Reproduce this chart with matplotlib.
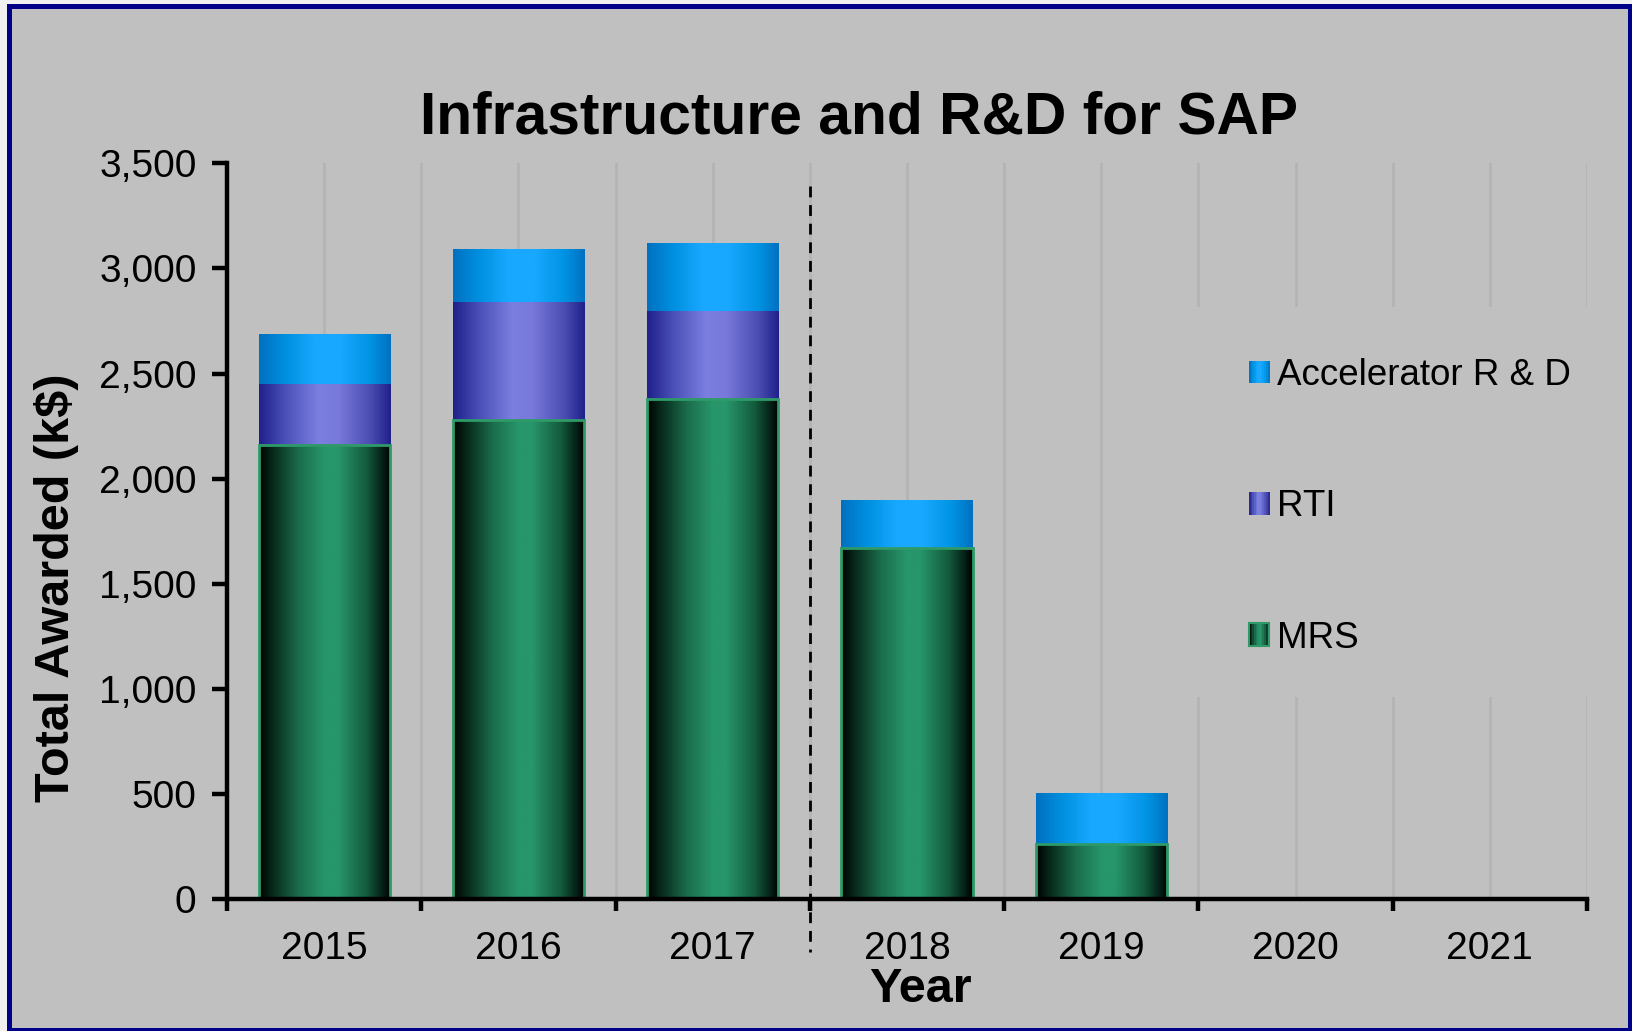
import numpy as np
import matplotlib
matplotlib.use("Agg")
import matplotlib.pyplot as plt
from matplotlib.colors import LinearSegmentedColormap
from matplotlib.patches import Rectangle
from matplotlib.legend_handler import HandlerBase
from matplotlib.lines import Line2D
from matplotlib.ticker import StrMethodFormatter, FixedLocator

plt.rcParams['font.family'] = ['Liberation Sans', 'DejaVu Sans']

# ---- data ----
years = ["2015", "2016", "2017", "2018", "2019", "2020", "2021"]
mrs = [2160, 2280, 2380, 1670, 260, 0, 0]
rti = [290, 560, 420, 0, 0, 0, 0]
accel = [240, 255, 320, 230, 245, 0, 0]
series_labels = ["MRS", "RTI", "Accelerator R & D"]
title = "Infrastructure and R&D for SAP"
ylabel = "Total Awarded (k$)"
xlabel = "Year"

BG = "#c0c0c0"
W, H = 1632, 1031
fig = plt.figure(figsize=(W / 100, H / 100), dpi=100, facecolor="#f0f0f0")

# outer frame
fig.patches.append(Rectangle((8.5, 1.5), 1621, 1024, transform=None,
                             facecolor=BG, edgecolor="#000088", linewidth=3.6,
                             zorder=-10))

ax = fig.add_axes([227 / W, 1 - 899 / H, 1360 / W, (899 - 163.4) / H])
ax.set_facecolor(BG)
ax.set_xlim(-0.5, len(years) - 0.5)
ax.set_ylim(0, 3500)

cm_mrs = LinearSegmentedColormap.from_list("mrs", [
    (0.0, "#000000"), (0.1, "#06281a"), (0.3, "#1b6c4c"), (0.5, "#27966a"),
    (0.6, "#27966a"), (0.82, "#135a3c"), (0.93, "#05241a"), (1.0, "#000000")])
cm_rti = LinearSegmentedColormap.from_list("rti", [
    (0.0, "#20208a"), (0.2, "#4b50b8"), (0.45, "#7b7fe0"), (0.6, "#7879da"),
    (0.85, "#4a4cb0"), (1.0, "#20208a")])
cm_acc = LinearSegmentedColormap.from_list("acc", [
    (0.0, "#0070c0"), (0.2, "#0090e0"), (0.42, "#18a8ff"), (0.62, "#18a8ff"),
    (0.85, "#0092e2"), (1.0, "#0070c0")])

x = np.arange(len(years))
width = 0.675
grad = np.linspace(0, 1, 256).reshape(1, -1)


def gradient_fill(bars, cmap):
    for p in bars.patches:
        h = p.get_height()
        if h <= 0:
            continue
        x0, y0 = p.get_x(), p.get_y()
        im = ax.imshow(grad, cmap=cmap, aspect="auto", interpolation="bilinear",
                       extent=[x0, x0 + p.get_width(), y0, y0 + h], zorder=2.2)
        im.set_clip_path(p)


b_mrs = ax.bar(x, mrs, width, color="#27966a", zorder=2, linewidth=0)
gradient_fill(b_mrs, cm_mrs)
ax.bar(x, mrs, width, fill=False, edgecolor="#2e9a68", linewidth=2.0, zorder=3)
bottom2 = np.array(mrs)
b_rti = ax.bar(x, rti, width, bottom=bottom2, color="#7b7fe0", zorder=2, linewidth=0)
gradient_fill(b_rti, cm_rti)
bottom3 = bottom2 + np.array(rti)
b_acc = ax.bar(x, accel, width, bottom=bottom3, color="#18a8ff", zorder=2, linewidth=0)
gradient_fill(b_acc, cm_acc)

ax.set_xlim(-0.5, len(years) - 0.5)
ax.set_ylim(0, 3500)

# gridlines every half category
for gx in np.arange(0, len(years) - 0.49, 0.5):
    ax.axvline(gx, color="#b4b4b4", linewidth=2.0, zorder=0.5)

# mask behind legend
ax.add_patch(Rectangle((0.706, 0.2746), 0.31, 0.53, transform=ax.transAxes,
                       facecolor=BG, edgecolor="none", zorder=0.8, clip_on=False))

# dashed separator
ax.add_line(Line2D([2.5, 2.5], [3392, -252], color="black", linewidth=2.0,
                   linestyle=(0, (3.9, 2.8)), zorder=4, clip_on=False))

# spines / ticks
for s in ["top", "right"]:
    ax.spines[s].set_visible(False)
for s in ["left", "bottom"]:
    ax.spines[s].set_linewidth(3.2)
    ax.spines[s].set_zorder(5)
ax.yaxis.set_major_locator(FixedLocator(np.arange(0, 3501, 500)))
ax.yaxis.set_major_formatter(StrMethodFormatter("{x:,.0f}"))
ax.tick_params(axis="y", which="major", length=11, width=3.2, pad=11,
               labelsize=28, direction="out")
ax.set_xticks(np.arange(-0.5, len(years), 1.0))
ax.set_xticklabels([])
ax.set_xticks(x, minor=True)
ax.set_xticklabels(years, minor=True)
ax.tick_params(axis="x", which="major", length=8.5, width=3.2, direction="out")
ax.tick_params(axis="x", which="minor", length=0, pad=23, labelsize=28)

# legend with gradient handles
class GradientHandler(HandlerBase):
    def __init__(self, cmap, edge=None):
        super().__init__()
        self.cmap = cmap
        self.edge = edge

    def create_artists(self, legend, orig_handle, xdescent, ydescent, width,
                       height, fontsize, trans):
        n = 12
        arts = []
        for i in range(n):
            r = Rectangle((-xdescent + width * i / n, -ydescent), width / n + 0.3,
                          height, facecolor=self.cmap((i + 0.5) / n),
                          edgecolor="none", transform=trans)
            arts.append(r)
        if self.edge:
            arts.append(Rectangle((-xdescent, -ydescent), width, height,
                                  fill=False, edgecolor=self.edge, linewidth=1.5,
                                  transform=trans))
        return arts

h_acc = Rectangle((0, 0), 1, 1)
h_rti = Rectangle((0, 0), 1, 1)
h_mrs = Rectangle((0, 0), 1, 1)
leg = ax.legend([h_acc, h_rti, h_mrs],
                [series_labels[2], series_labels[1], series_labels[0]],
                handler_map={h_acc: GradientHandler(cm_acc),
                             h_rti: GradientHandler(cm_rti),
                             h_mrs: GradientHandler(cm_mrs, edge="#2e9a68")},
                loc="upper left", bbox_to_anchor=(1249 / W, 1 - 358 / H),
                bbox_transform=fig.transFigure, frameon=False, fontsize=26.5,
                borderpad=0, borderaxespad=0, handlelength=0.55,
                handleheight=0.58, handletextpad=0.2, labelspacing=2.62)
leg.set_zorder(6)

# texts
fig.text(859 / W, 1 - 134 / H, title, ha="center", va="baseline",
         fontsize=42.3, fontweight="bold")
fig.text(57 / W, 1 - 588 / H, ylabel, ha="center", va="center", rotation=90,
         fontsize=35, fontweight="bold")
fig.text(920 / W, 1 - 1002 / H, xlabel, ha="center", va="baseline",
         fontsize=35, fontweight="bold")

fig.savefig("out.png", dpi=100, facecolor=fig.get_facecolor())
